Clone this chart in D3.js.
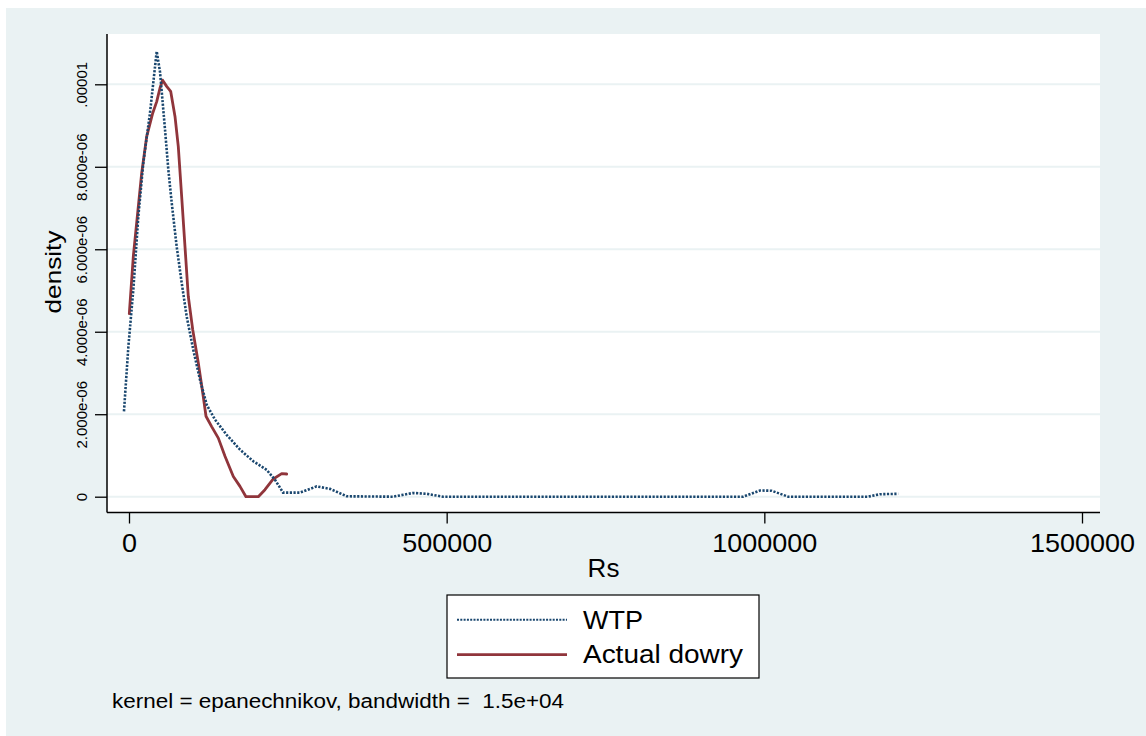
<!DOCTYPE html>
<html>
<head>
<meta charset="utf-8">
<script src="https://cdn.jsdelivr.net/npm/d3@7"></script>
<style>
  html, body { margin: 0; padding: 0; background: #ffffff; }
  svg { display: block; }
  text { font-family: "Liberation Sans", Arial, Helvetica, sans-serif; fill: #000; white-space: pre; }
</style>
</head>
<body>
<svg id="chart" width="1146" height="736"></svg>
<script>
// Kernel density estimates (Rs vs density)
const wtpX = [-7900, -1000, 6800, 14700, 22500, 33000, 43600, 48800, 56700, 61900, 67200, 75000,
  82900, 90800, 101200, 111700, 122300, 135300, 153700, 174700, 195600, 216700, 229800, 237600,
  242400, 269100, 295400, 316300, 342600, 415500, 447000, 468500, 494200, 966700, 993100,
  1011400, 1037600, 1163500, 1181900, 1210700];
const wtpY = [2.07e-6, 3.64e-6, 5.02e-6, 6.80e-6, 8.09e-6, 9.30e-6, 1.08e-5, 1.03e-5, 8.9e-6,
  7.93e-6, 7.13e-6, 6.07e-6, 5.19e-6, 4.37e-6, 3.56e-6, 2.84e-6, 2.23e-6, 1.87e-6, 1.50e-6,
  1.14e-6, 8.6e-7, 6.5e-7, 4.1e-7, 2.2e-7, 1.0e-7, 1.0e-7, 2.5e-7, 1.9e-7, 1e-8, 0, 9e-8, 7e-8,
  0, 0, 1.5e-7, 1.45e-7, 0, 0, 6e-8, 7e-8];

const dowryX = [500, 6800, 13100, 20000, 27800, 37300, 43600, 48800, 52900, 59300, 65600, 72400,
  77600, 82900, 88100, 93300, 100300, 109100, 116900, 121200, 130100, 140600, 151100, 164200,
  174700, 184100, 203500, 214000, 227100, 240300, 248200];
const dowryY = [4.44e-6, 5.83e-6, 6.80e-6, 7.85e-6, 8.73e-6, 9.30e-6, 9.58e-6, 9.91e-6, 1.01e-5,
  9.95e-6, 9.83e-6, 9.22e-6, 8.49e-6, 7.28e-6, 6.07e-6, 4.86e-6, 4.05e-6, 3.24e-6, 2.43e-6,
  1.95e-6, 1.70e-6, 1.42e-6, 9.8e-7, 4.9e-7, 2.5e-7, 0, 0, 1.7e-7, 4.3e-7, 5.6e-7, 5.5e-7];

const xTicks = [0, 500000, 1000000, 1500000];
const xTickLabels = ["0", "500000", "1000000", "1500000"];
const yTicks = [0, 2e-6, 4e-6, 6e-6, 8e-6, 1e-5];
const yTickLabels = ["0", "2.000e-06", "4.000e-06", "6.000e-06", "8.000e-06", ".00001"];

const seriesNames = ["WTP", "Actual dowry"];
const xTitle = "Rs";
const yTitle = "density";
const note = "kernel = epanechnikov, bandwidth =  1.5e+04";

const colors = { wtp: "#1a476f", dowry: "#90353b" };

const svg = d3.select("#chart");

// plot region
const plot = { left: 107, right: 1100, top: 34, bottom: 512.5 };

const x = d3.scaleLinear().domain([0, 1500000]).range([129, 1082]);
const y = d3.scaleLinear().domain([0, 1e-5]).range([496.7, 84.3]);

// outer graph background
svg.append("rect").attr("x", 6).attr("y", 8).attr("width", 1140).attr("height", 728)
  .attr("fill", "#eaf2f3");

// plot background
svg.append("rect")
  .attr("x", plot.left).attr("y", plot.top)
  .attr("width", plot.right - plot.left).attr("height", plot.bottom - plot.top)
  .attr("fill", "#ffffff");

// horizontal gridlines
svg.append("g").selectAll("line").data(yTicks).join("line")
  .attr("x1", plot.left).attr("x2", plot.right)
  .attr("y1", d => y(d)).attr("y2", d => y(d))
  .attr("stroke", "#eaf2f3").attr("stroke-width", 2);

// density curves
const line = d3.line().x(d => x(d[0])).y(d => y(d[1]));

svg.append("path")
  .datum(dowryX.map((v, i) => [v, dowryY[i]]))
  .attr("d", line)
  .attr("fill", "none").attr("stroke", colors.dowry)
  .attr("stroke-width", 2.8).attr("stroke-linejoin", "round").attr("stroke-linecap", "round");

svg.append("path")
  .datum(wtpX.map((v, i) => [v, wtpY[i]]))
  .attr("d", line)
  .attr("fill", "none").attr("stroke", colors.wtp)
  .attr("stroke-width", 2.6).attr("stroke-dasharray", "2.2,1.5");

// y axis
const yAxis = svg.append("g").attr("transform", `translate(${plot.left},0)`)
  .call(d3.axisLeft(y).tickValues(yTicks).tickFormat((d, i) => yTickLabels[i])
    .tickSize(12).tickSizeOuter(0));
yAxis.select(".domain").remove();
yAxis.selectAll(".tick line").attr("stroke", "#000").attr("stroke-width", 1.3);
yAxis.selectAll(".tick text")
  .attr("transform", "rotate(-90)")
  .attr("x", 0).attr("y", -20).attr("dy", 0)
  .attr("text-anchor", "middle")
  .style("font-size", "15px");
yAxis.append("line")
  .attr("x1", 0).attr("x2", 0).attr("y1", plot.top).attr("y2", plot.bottom)
  .attr("stroke", "#000").attr("stroke-width", 1.5);

// x axis
const xAxis = svg.append("g").attr("transform", `translate(0,${plot.bottom})`)
  .call(d3.axisBottom(x).tickValues(xTicks).tickFormat((d, i) => xTickLabels[i])
    .tickSize(11).tickSizeOuter(0));
xAxis.select(".domain").remove();
xAxis.selectAll(".tick line").attr("stroke", "#000").attr("stroke-width", 1.3);
xAxis.selectAll(".tick text")
  .attr("y", 39.5).attr("dy", 0)
  .style("font-size", "26px")
  .attr("textLength", (d, i) => xTickLabels[i].length * 15)
  .attr("lengthAdjust", "spacingAndGlyphs");
xAxis.append("line")
  .attr("x1", plot.left).attr("x2", plot.right).attr("y1", 0).attr("y2", 0)
  .attr("stroke", "#000").attr("stroke-width", 1.5);

// axis titles
svg.append("text")
  .attr("x", (plot.left + plot.right) / 2).attr("y", 577)
  .attr("text-anchor", "middle").style("font-size", "26px")
  .text(xTitle);

svg.append("text")
  .attr("transform", "translate(61,272) rotate(-90)")
  .attr("text-anchor", "middle").style("font-size", "22px")
  .attr("textLength", 83).attr("lengthAdjust", "spacingAndGlyphs")
  .text(yTitle);

// legend
const legend = svg.append("g");
legend.append("rect")
  .attr("x", 447).attr("y", 595).attr("width", 312).attr("height", 83)
  .attr("fill", "#ffffff").attr("stroke", "#000").attr("stroke-width", 1.2);

const legendRows = [
  { name: seriesNames[0], color: colors.wtp, dash: "2,1.3", width: 2, ly: 619.7, ty: 629, len: 60 },
  { name: seriesNames[1], color: colors.dowry, dash: null, width: 2.8, ly: 654.7, ty: 663, len: 160 }
];
legendRows.forEach(r => {
  legend.append("line")
    .attr("x1", 457).attr("x2", 567).attr("y1", r.ly).attr("y2", r.ly)
    .attr("stroke", r.color).attr("stroke-width", r.width)
    .attr("stroke-dasharray", r.dash);
  legend.append("text")
    .attr("x", 583).attr("y", r.ty)
    .style("font-size", "25px")
    .attr("textLength", r.len).attr("lengthAdjust", "spacingAndGlyphs")
    .text(r.name);
});

// note
svg.append("text")
  .attr("x", 112).attr("y", 708)
  .style("font-size", "20px")
  .attr("textLength", 452).attr("lengthAdjust", "spacingAndGlyphs")
  .text(note);
</script>
</body>
</html>
